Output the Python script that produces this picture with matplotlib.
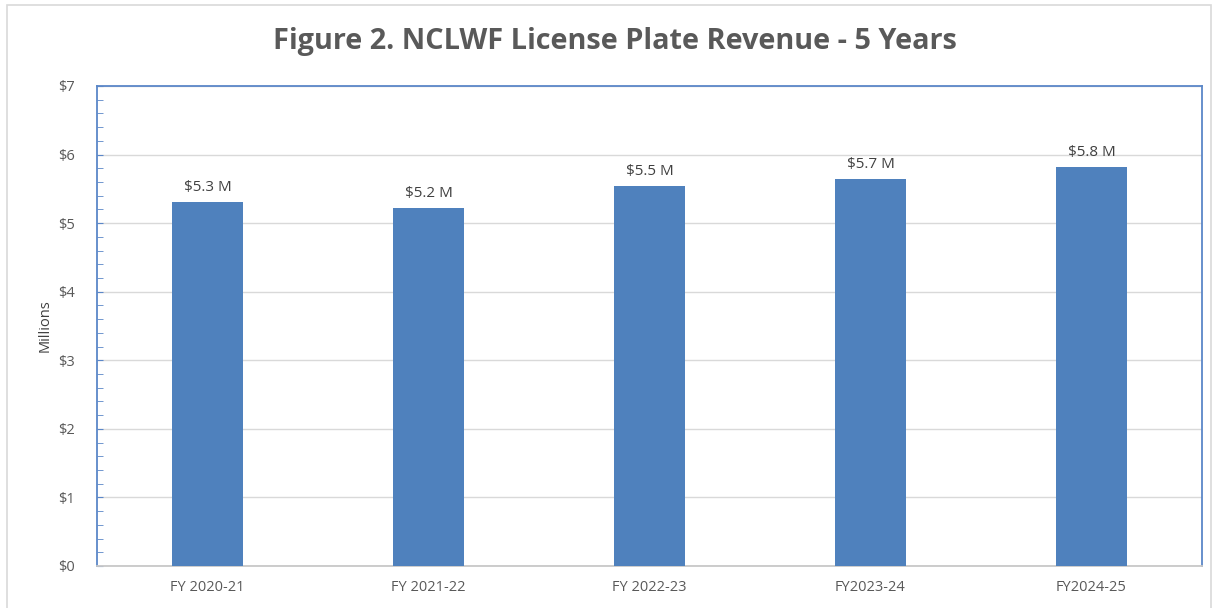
import matplotlib.pyplot as plt
import matplotlib.patches as patches
from matplotlib.ticker import MultipleLocator, FuncFormatter

years = ['FY 2020-21', 'FY 2021-22', 'FY 2022-23', 'FY2023-24', 'FY2024-25']
revenue = [5.31, 5.22, 5.54, 5.65, 5.82]
labels = ['$5.3 M', '$5.2 M', '$5.5 M', '$5.7 M', '$5.8 M']

plt.rcParams['font.family'] = ['Open Sans', 'DejaVu Sans']
grey = '#595959'
blue_edge = '#5B87C8'

fig = plt.figure(figsize=(12.16, 6.08), dpi=100)
fig.patches.append(patches.Rectangle((7/1216, -0.01), 1204/1216, 1 - 5/608 + 0.01,
                                     transform=fig.transFigure, fill=False,
                                     edgecolor='#D9D9D9', linewidth=1.2))
ax = fig.add_axes([97/1216, 1-566/608, 1105/1216, 480/608])

x = range(len(years))
ax.bar(x, revenue, width=0.317, color='#4F81BD', zorder=3)
for i, v in enumerate(revenue):
    ax.text(i, v + 0.1, labels[i], ha='center', va='bottom', fontsize=11, color='#404040')

ax.set_xlim(-0.5, len(years) - 0.5)
ax.set_ylim(0, 7)
ax.set_xticks(list(x))
ax.set_xticklabels(years)
ax.yaxis.set_major_locator(MultipleLocator(1))
ax.yaxis.set_minor_locator(MultipleLocator(0.2))
ax.yaxis.set_major_formatter(FuncFormatter(lambda v, p: '$%d' % v))
ax.grid(axis='y', color='#D9D9D9', linewidth=1, zorder=0)
ax.tick_params(axis='y', which='both', direction='in', length=4, color=blue_edge,
               labelsize=10.5, labelcolor=grey, pad=16)
ax.tick_params(axis='x', length=0, labelsize=10.5, labelcolor=grey, pad=10)
for s in ['left', 'top', 'right']:
    ax.spines[s].set_color(blue_edge)
    ax.spines[s].set_linewidth(1.3)
ax.spines['bottom'].set_color('#C8C8C8')
ax.spines['bottom'].set_linewidth(1.3)

ax.set_ylabel('Millions', fontsize=10.5, color='#404040', labelpad=4)
fig.text(615/1216, 1-42/608, 'Figure 2. NCLWF License Plate Revenue - 5 Years',
         ha='center', va='center', fontsize=20.8, fontweight='bold', color=grey)

fig.savefig('out.png', dpi=100, facecolor='w')
